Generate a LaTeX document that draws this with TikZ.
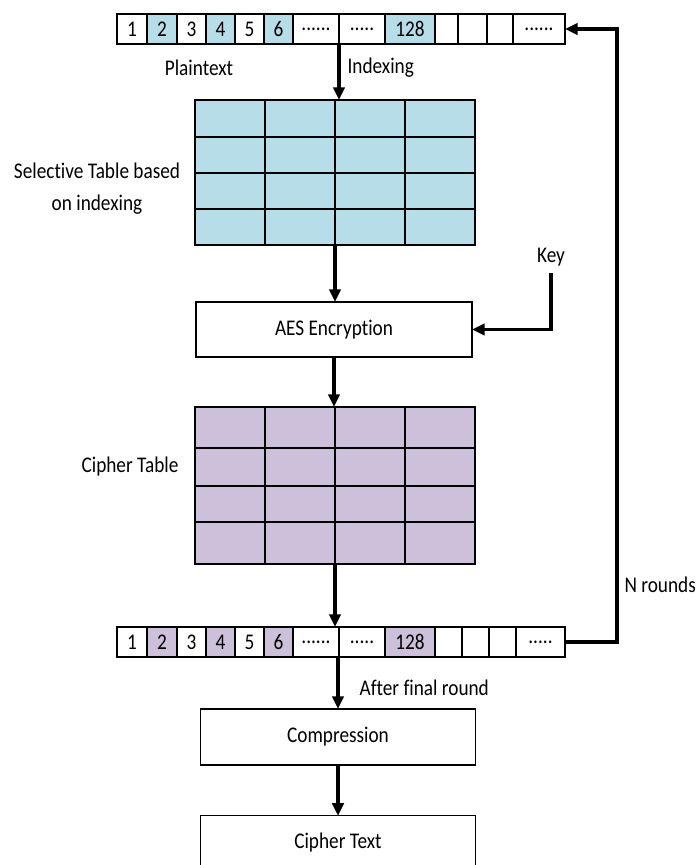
\documentclass[tikz,border=0pt]{standalone}
\usepackage{fontspec}
\setmainfont{Carlito}[Ligatures=NoCommon,FakeStretch=0.86]
\usetikzlibrary{arrows.meta}
\definecolor{selblue}{HTML}{B7DDE8}
\definecolor{ciphpurple}{HTML}{CCC0DA}
\begin{document}
\begin{tikzpicture}[x=0.75pt,y=-0.75pt,>={Triangle[width=8.5pt,length=9.5pt]},font=\fontsize{16.8}{24}\selectfont]
\tikzset{
  cell/.style={draw,line width=0.8pt,inner sep=0pt,outer sep=0pt,minimum height=22.5pt},
  gridcell/.style={draw,line width=0.8pt,inner sep=0pt,outer sep=0pt},
  stage/.style={draw,line width=0.8pt,inner sep=0pt,outer sep=0pt,minimum width=206pt,minimum height=42pt},
  lbl/.style={inner sep=1pt},
  flow/.style={->,line width=2.4pt}
}
\useasboundingbox (0,0) rectangle (699,865);
\clip (0,0) rectangle (699,865);
% plaintext row
\foreach \xa/\xb/\t/\f [count=\i] in {117/147/1/white,147/177/2/selblue,177/206/3/white,206/235/4/selblue,235/264/5/white,264/293/6/selblue,293/339/{......}/white,339/385/{.....}/white,385/435/128/selblue,435/458/{}/white,458/487/{}/white,487/513/{}/white,513/565/{......}/white}
  \node[cell,fill=\f,minimum width={(\xb-\xa)*0.75pt}] (top\i) at ({(\xa+\xb)/2},29) {\t};
% cipher row
\foreach \xa/\xb/\t/\f [count=\i] in {117/147/1/white,147/177/2/ciphpurple,177/206/3/white,206/235/4/ciphpurple,235/264/5/white,264/293/6/ciphpurple,293/339/{......}/white,339/385/{.....}/white,385/435/128/ciphpurple,435/462/{}/white,462/489/{}/white,489/516/{}/white,516/565/{.....}/white}
  \node[cell,fill=\f,minimum width={(\xb-\xa)*0.75pt}] (bot\i) at ({(\xa+\xb)/2},642) {\t};
% selective table
\foreach \ya/\yb [count=\r] in {100/137,137/173,173/209,209/245}
  \foreach \xa/\xb [count=\c] in {195/265,265/335,335/405,405/475}
    \node[gridcell,fill=selblue,minimum width={(\xb-\xa)*0.75pt},minimum height={(\yb-\ya)*0.75pt}] (sel-\r-\c) at ({(\xa+\xb)/2},{(\ya+\yb)/2}) {};
% cipher table
\foreach \ya/\yb [count=\r] in {407/448,448/486,486/522,522/564}
  \foreach \xa/\xb [count=\c] in {195/265,265/335,335/405,405/475}
    \node[gridcell,fill=ciphpurple,minimum width={(\xb-\xa)*0.75pt},minimum height={(\yb-\ya)*0.75pt}] (ciph-\r-\c) at ({(\xa+\xb)/2},{(\ya+\yb)/2}) {};
\node[stage,minimum width=207pt,minimum height=41.25pt] (aes) at (334,329.5) {AES Encryption};
\node[stage] (comp) at (338,737) {Compression};
\node[stage,minimum height=40pt] (ctext) at (338,842.5) {Cipher Text};
\node[lbl] (plain) at (199,68) {Plaintext};
\node[lbl,anchor=west] (idx) at (346,68) {Indexing};
\node[lbl,align=center] (sellbl) at (97,189) {Selective Table based\\on indexing};
\node[lbl,anchor=east] (ciphlbl) at (180,467) {Cipher Table};
\node[lbl] (key) at (551,257) {Key};
\node[lbl,anchor=west] (nr) at (623,585) {N rounds};
\node[lbl,anchor=west] (after) at (358,688) {After final round};
\coordinate (loop) at (617,335);
\draw[flow] (top7.south east) -- (top7.south east |- sel-1-2.north);
\draw[flow] (sel-4-2.south east) -- (sel-4-2.south east |- aes.north);
\draw[flow] (aes.south) -- (aes.south |- ciph-1-2.north);
\draw[flow] (ciph-4-2.south east) -- (ciph-4-2.south east |- bot7.north);
\draw[flow] (comp.north |- bot7.south) -- (comp.north);
\draw[flow] (comp) -- (ctext);
\draw[flow] ([yshift=-4pt]key.south) |- (aes.east);
\draw[flow] (bot13.east) -- (bot13.east -| loop) -- (top13.east -| loop) -- (top13.east);
\end{tikzpicture}
\end{document}
